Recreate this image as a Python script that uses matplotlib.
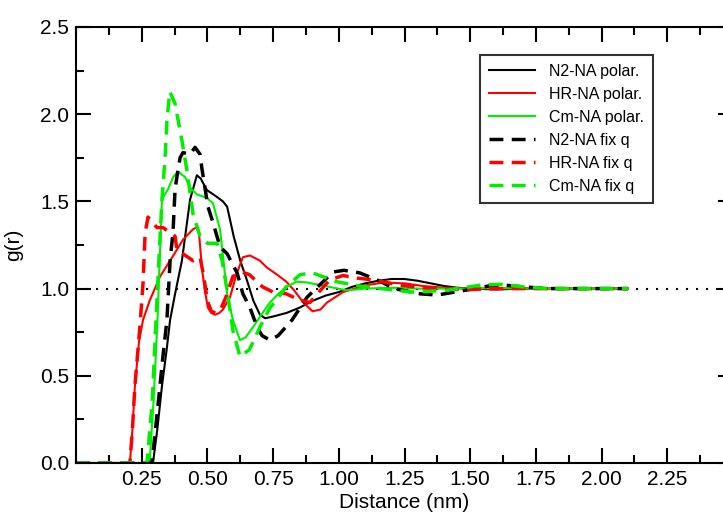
import matplotlib
matplotlib.use("Agg")
import matplotlib.pyplot as plt
from matplotlib.ticker import MultipleLocator, FixedLocator

plt.rcParams['font.family'] = ['Liberation Sans', 'DejaVu Sans']

# Radial distribution functions g(r) vs distance (nm)
n2_pol_x = [0.0, 0.293, 0.31, 0.327, 0.345, 0.358, 0.377, 0.403, 0.434, 0.46, 0.475, 0.498,
            0.537, 0.559, 0.575, 0.60, 0.625, 0.65, 0.675, 0.70, 0.72, 0.75, 0.80, 0.85,
            0.90, 0.95, 1.00, 1.05, 1.10, 1.15, 1.20, 1.25, 1.30, 1.35, 1.40, 1.45, 1.50,
            1.60, 1.70, 1.80, 1.90, 2.00, 2.10]
n2_pol_y = [0.0, 0.0, 0.2, 0.44, 0.65, 0.82, 0.97, 1.16, 1.51, 1.65, 1.63, 1.565,
            1.525, 1.50, 1.47, 1.30, 1.16, 1.05, 0.93, 0.85, 0.83, 0.84, 0.86, 0.89,
            0.93, 0.96, 0.98, 1.01, 1.03, 1.045, 1.055, 1.055, 1.045, 1.03, 1.015, 1.005, 1.0,
            0.995, 1.0, 1.0, 1.0, 1.0, 1.0]

hr_pol_x = [0.0, 0.205, 0.215, 0.224, 0.24, 0.255, 0.28, 0.32, 0.358, 0.407, 0.445, 0.458,
            0.468, 0.479, 0.49, 0.502, 0.515, 0.529, 0.545, 0.559, 0.586, 0.61, 0.635, 0.662,
            0.70, 0.727, 0.765, 0.80, 0.83, 0.865, 0.90, 0.93, 0.955, 1.016, 1.06, 1.107,
            1.17, 1.25, 1.32, 1.40, 1.50, 1.60, 1.70, 1.80, 1.90, 2.00, 2.10]
hr_pol_y = [0.0, 0.0, 0.2, 0.44, 0.7, 0.82, 0.93, 1.07, 1.16, 1.28, 1.34, 1.35,
            1.32, 1.12, 0.99, 0.89, 0.86, 0.85, 0.86, 0.88, 0.95, 1.08, 1.18, 1.19,
            1.16, 1.12, 1.08, 1.04, 0.99, 0.92, 0.87, 0.88, 0.92, 0.98, 1.0, 1.02,
            1.035, 1.03, 1.015, 1.005, 1.0, 1.0, 1.0, 1.0, 1.0, 1.0, 1.0]

cm_pol_x = [0.0, 0.28, 0.295, 0.31, 0.327, 0.35, 0.37, 0.388, 0.415, 0.434, 0.46, 0.498,
            0.521, 0.548, 0.575, 0.597, 0.624, 0.645, 0.674, 0.705, 0.738, 0.77, 0.80,
            0.84, 0.88, 0.93, 1.03, 1.10, 1.20, 1.30, 1.40, 1.50, 1.60, 1.70, 1.80,
            1.90, 2.00, 2.10]
cm_pol_y = [0.0, 0.0, 0.35, 0.82, 1.51, 1.57, 1.64, 1.67, 1.64, 1.58, 1.54, 1.52,
            1.49, 1.34, 0.97, 0.82, 0.705, 0.72, 0.78, 0.85, 0.92, 0.97, 1.01,
            1.04, 1.035, 1.02, 0.99, 1.0, 1.005, 1.0, 1.0, 1.0, 1.005, 1.0, 1.0,
            1.0, 1.0, 1.0]

n2_fix_x = [0.0, 0.289, 0.31, 0.33, 0.346, 0.358, 0.369, 0.377, 0.388, 0.396, 0.407, 0.434,
            0.453, 0.472, 0.479, 0.502, 0.521, 0.548, 0.575, 0.613, 0.635, 0.662, 0.689,
            0.708, 0.738, 0.769, 0.822, 0.879, 0.913, 0.978, 1.02, 1.08, 1.16, 1.21, 1.31,
            1.375, 1.44, 1.50, 1.57, 1.63, 1.70, 1.80, 1.90, 2.00, 2.10]
n2_fix_y = [0.0, 0.0, 0.3, 0.6, 0.82, 1.16, 1.32, 1.57, 1.68, 1.75, 1.78, 1.77,
            1.81, 1.77, 1.69, 1.47, 1.38, 1.24, 1.20, 1.09, 0.97, 0.89, 0.78,
            0.73, 0.705, 0.73, 0.82, 0.95, 1.0, 1.095, 1.105, 1.09, 1.04, 1.0, 0.97,
            0.963, 0.98, 0.995, 1.015, 1.02, 1.01, 1.0, 1.0, 1.0, 1.0]

hr_fix_x = [0.0, 0.205, 0.215, 0.224, 0.243, 0.255, 0.263, 0.274, 0.293, 0.308, 0.331, 0.358,
            0.377, 0.384, 0.407, 0.445, 0.472, 0.485, 0.50, 0.515, 0.53, 0.55, 0.57, 0.597,
            0.632, 0.66, 0.71, 0.75, 0.80, 0.85, 0.89, 0.93, 0.966, 1.016, 1.07, 1.13,
            1.23, 1.35, 1.50, 1.60, 1.70, 1.80, 1.90, 2.00, 2.10]
hr_fix_y = [0.0, 0.0, 0.2, 0.44, 0.78, 1.03, 1.32, 1.41, 1.375, 1.35, 1.35, 1.32,
            1.30, 1.22, 1.20, 1.16, 1.18, 1.08, 0.93, 0.87, 0.86, 0.88, 0.95, 1.07,
            1.095, 1.08, 1.01, 0.98, 0.97, 0.935, 0.92, 0.99, 1.05, 1.075, 1.06, 1.05,
            1.02, 1.0, 0.995, 1.0, 1.0, 1.0, 1.0, 1.0, 1.0]

cm_fix_x = [0.0, 0.27, 0.29, 0.31, 0.327, 0.339, 0.346, 0.357, 0.377, 0.388, 0.403, 0.415,
            0.422, 0.445, 0.472, 0.50, 0.537, 0.556, 0.575, 0.597, 0.624, 0.66, 0.70,
            0.738, 0.77, 0.80, 0.852, 0.90, 0.955, 0.99, 1.08, 1.16, 1.28, 1.41, 1.54,
            1.62, 1.70, 1.80, 1.90, 2.00, 2.10]
cm_fix_y = [0.0, 0.0, 0.35, 1.0, 1.51, 1.75, 1.97, 2.13, 2.06, 1.97, 1.85, 1.74,
            1.68, 1.43, 1.30, 1.26, 1.26, 1.16, 0.99, 0.76, 0.61, 0.65, 0.78,
            0.89, 0.95, 1.01, 1.08, 1.09, 1.06, 1.04, 1.015, 1.0, 0.98, 0.99, 1.02,
            1.025, 1.01, 1.0, 1.0, 1.0, 1.0]

x_ticks = [0.25, 0.50, 0.75, 1.00, 1.25, 1.50, 1.75, 2.00, 2.25]
x_tick_labels = ["0.25", "0.50", "0.75", "1.00", "1.25", "1.50", "1.75", "2.00", "2.25"]
y_ticks = [0.0, 0.5, 1.0, 1.5, 2.0, 2.5]
y_tick_labels = ["0.0", "0.5", "1.0", "1.5", "2.0", "2.5"]

GREEN = "#00ee00"
solid_lw = 1.5
dash_lw = 2.5
dash_style = (0, (4, 2.4))

fig = plt.figure(figsize=(7.23, 5.12), dpi=100)
ax = fig.add_axes([76 / 723, 49 / 512, 657 / 723, 436 / 512])

ax.plot([0, 2.5], [1, 1], color="black", lw=1.5, linestyle=(0, (1, 3.8)), zorder=1)

ax.plot(n2_pol_x, n2_pol_y, color="black", lw=solid_lw, label="N2-NA polar.")
ax.plot(hr_pol_x, hr_pol_y, color="red", lw=solid_lw, label="HR-NA polar.")
ax.plot(cm_pol_x, cm_pol_y, color=GREEN, lw=solid_lw, label="Cm-NA polar.")
ax.plot(n2_fix_x, n2_fix_y, color="black", lw=dash_lw, linestyle=dash_style, label="N2-NA fix q")
ax.plot(hr_fix_x, hr_fix_y, color="red", lw=dash_lw, linestyle=dash_style, label="HR-NA fix q")
ax.plot(cm_fix_x, cm_fix_y, color=GREEN, lw=dash_lw, linestyle=dash_style, label="Cm-NA fix q")

ax.set_xlim(0, 2.5)
ax.set_ylim(0, 2.5)
ax.xaxis.set_major_locator(FixedLocator(x_ticks))
ax.set_xticklabels(x_tick_labels)
ax.xaxis.set_minor_locator(MultipleLocator(0.125))
ax.set_yticks(y_ticks)
ax.set_yticklabels(y_tick_labels)
ax.yaxis.set_minor_locator(MultipleLocator(0.25))

ax.tick_params(which="both", direction="in", top=True, right=True, width=1.5,
               labelsize=15, pad=5)
ax.tick_params(which="major", length=11)
ax.tick_params(which="minor", length=5.5)
for sp in ax.spines.values():
    sp.set_linewidth(1.5)

ax.set_xlabel("Distance (nm)", fontsize=15, labelpad=3)
ax.set_ylabel("g(r)", fontsize=15)
ax.yaxis.set_label_coords(-0.081, 0.5)

leg = ax.legend(loc="upper left", bbox_to_anchor=(404 / 657, 1 - 28 / 436), fontsize=11.5,
                frameon=True, fancybox=False, handlelength=2.9, labelspacing=0.5,
                borderpad=0.55, handletextpad=0.9, borderaxespad=0)
leg.get_frame().set_edgecolor("black")
leg.get_frame().set_linewidth(1.5)

fig.savefig("out.png", dpi=100)
